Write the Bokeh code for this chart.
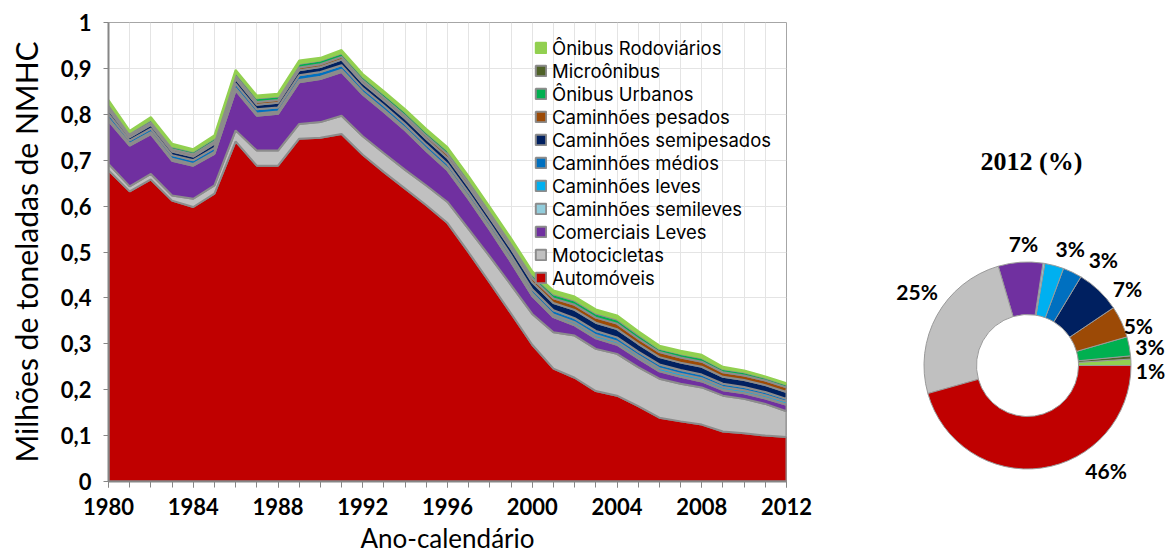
import math
from bokeh.plotting import figure
from bokeh.models import (Range1d, SingleIntervalTicker, FixedTicker, CustomJSTickFormatter,
                          Legend, LegendItem)
from bokeh.layouts import row
from bokeh.embed import file_html
from bokeh.resources import INLINE
from bokeh.core.properties import value

# ---------------- data (millions of tonnes NMHC) ----------------
years = list(range(1980, 2013))

automoveis = [0.678, 0.632, 0.658, 0.612, 0.598, 0.627, 0.741, 0.688, 0.688, 0.747,
              0.749, 0.757, 0.712, 0.674, 0.638, 0.602, 0.563, 0.499, 0.433, 0.366,
              0.298, 0.246, 0.226, 0.197, 0.187, 0.164, 0.139, 0.131, 0.124, 0.109,
              0.105, 0.100, 0.097]
motocicletas = [0.014, 0.011, 0.012, 0.011, 0.018, 0.018, 0.024, 0.033, 0.033, 0.032,
                0.034, 0.040, 0.040, 0.041, 0.041, 0.043, 0.046, 0.051, 0.057, 0.062,
                0.067, 0.079, 0.092, 0.092, 0.091, 0.085, 0.085, 0.082, 0.081, 0.078,
                0.075, 0.069, 0.056]
comerciais_leves = [0.094, 0.089, 0.087, 0.076, 0.072, 0.069, 0.087, 0.076, 0.080, 0.091,
                    0.094, 0.095, 0.091, 0.090, 0.086, 0.075, 0.069, 0.065, 0.058, 0.050,
                    0.039, 0.033, 0.022, 0.023, 0.020, 0.019, 0.016, 0.015, 0.013, 0.012,
                    0.012, 0.012, 0.014]
cam_semileves = [0.001, 0.001, 0.001, 0.001, 0.001, 0.001, 0.001, 0.001, 0.001, 0.001,
                 0.001, 0.001, 0.001, 0.001, 0.001, 0.001, 0.001, 0.001, 0.001, 0.001,
                 0.001, 0.001, 0.001, 0.001, 0.001, 0.001, 0.001, 0.001, 0.001, 0.001,
                 0.001, 0.001, 0.001]
cam_leves = [0.004, 0.003, 0.003, 0.003, 0.003, 0.003, 0.004, 0.004, 0.004, 0.004,
             0.004, 0.004, 0.004, 0.004, 0.004, 0.004, 0.004, 0.004, 0.004, 0.005,
             0.005, 0.005, 0.006, 0.006, 0.006, 0.006, 0.006, 0.006, 0.006, 0.006,
             0.006, 0.006, 0.006]
cam_medios = [0.010, 0.007, 0.008, 0.008, 0.008, 0.009, 0.010, 0.009, 0.009, 0.010,
              0.010, 0.010, 0.009, 0.009, 0.009, 0.009, 0.009, 0.009, 0.009, 0.009,
              0.009, 0.009, 0.009, 0.009, 0.009, 0.008, 0.008, 0.008, 0.008, 0.007,
              0.007, 0.007, 0.006]
cam_semipesados = [0.009, 0.007, 0.008, 0.008, 0.008, 0.009, 0.010, 0.010, 0.010, 0.011,
                   0.011, 0.012, 0.011, 0.011, 0.012, 0.012, 0.013, 0.013, 0.013, 0.014,
                   0.015, 0.016, 0.018, 0.018, 0.018, 0.017, 0.016, 0.016, 0.017, 0.015,
                   0.015, 0.015, 0.015]
cam_pesados = [0.006, 0.005, 0.005, 0.005, 0.005, 0.005, 0.006, 0.006, 0.006, 0.006,
               0.006, 0.006, 0.006, 0.006, 0.006, 0.007, 0.008, 0.008, 0.008, 0.008,
               0.009, 0.010, 0.011, 0.011, 0.012, 0.011, 0.011, 0.011, 0.011, 0.010,
               0.010, 0.010, 0.010]
onibus_urbanos = [0.008, 0.005, 0.006, 0.006, 0.006, 0.007, 0.008, 0.008, 0.008, 0.008,
                  0.008, 0.008, 0.008, 0.008, 0.008, 0.008, 0.008, 0.008, 0.008, 0.008,
                  0.008, 0.009, 0.009, 0.009, 0.009, 0.009, 0.007, 0.008, 0.008, 0.007,
                  0.007, 0.006, 0.006]
microonibus = [0.001, 0.001, 0.001, 0.001, 0.001, 0.001, 0.001, 0.001, 0.001, 0.001,
               0.001, 0.001, 0.001, 0.001, 0.001, 0.001, 0.001, 0.001, 0.001, 0.001,
               0.001, 0.002, 0.002, 0.002, 0.002, 0.002, 0.001, 0.001, 0.001, 0.001,
               0.001, 0.001, 0.001]
onibus_rodoviarios = [0.006, 0.003, 0.005, 0.005, 0.004, 0.005, 0.005, 0.005, 0.005, 0.006,
                      0.005, 0.006, 0.005, 0.005, 0.005, 0.006, 0.006, 0.006, 0.006, 0.006,
                      0.006, 0.006, 0.007, 0.007, 0.007, 0.006, 0.006, 0.006, 0.006, 0.004,
                      0.003, 0.002, 0.002]

# stacking order: bottom -> top
names = ["Automóveis", "Motocicletas", "Comerciais Leves", "Caminhões semileves",
         "Caminhões leves", "Caminhões médios", "Caminhões semipesados",
         "Caminhões pesados", "Ônibus Urbanos", "Microônibus", "Ônibus Rodoviários"]
series = [automoveis, motocicletas, comerciais_leves, cam_semileves, cam_leves, cam_medios,
          cam_semipesados, cam_pesados, onibus_urbanos, microonibus, onibus_rodoviarios]

# 2012 shares (%) in the same order
pie_2012_pct = [46, 25, 7, 0.3, 3, 3, 7, 5, 3, 0.5, 1]

# ---------------- styles ----------------
colors = ["#C00000", "#C0C0C0", "#7030A0", "#92CDDC", "#00B0F0", "#0070C0",
          "#002060", "#9C4A06", "#00B050", "#4F6228", "#92D050"]
OUTLINE = "#8c8c8c"
FONT = "Lato"
H = 558
BORDER_TOP, BORDER_BOTTOM = 22, 77

# ---------------- area chart ----------------
p = figure(width=812, height=H, x_range=Range1d(1980, 2012), y_range=Range1d(0, 1),
           output_backend="svg", toolbar_location=None,
           min_border_left=108, min_border_right=26,
           min_border_top=BORDER_TOP, min_border_bottom=BORDER_BOTTOM)
p.outline_line_color = "#a6a6a6"
p.outline_line_width = 1
p.background_fill_color = "white"

base = [0.0] * len(years)
rends = []
for name, vals, col in zip(names, series, colors):
    top = [b + v for b, v in zip(base, vals)]
    xs = years + years[::-1]
    ys = top + base[::-1]
    lc = col if name == "Ônibus Rodoviários" else OUTLINE
    r = p.patch(xs, ys, fill_color=col, line_color=lc, line_width=2)
    rends.append((name, r))
    base = top

legend = Legend(items=[LegendItem(label=n, renderers=[r]) for n, r in reversed(rends)],
                location=(426, 192))
legend.label_text_font = "Inter"
legend.label_text_font_size = "18.5px"
legend.label_text_color = "#000000"
legend.glyph_width = 13
legend.glyph_height = 13
legend.label_height = 23
legend.spacing = 0
legend.padding = 0
legend.margin = 0
legend.label_standoff = 5
legend.border_line_color = None
legend.background_fill_alpha = 0
p.add_layout(legend)

# axes
p.xaxis.ticker = SingleIntervalTicker(interval=4, num_minor_ticks=4)
p.yaxis.ticker = FixedTicker(ticks=[0, 0.1, 0.2, 0.3, 0.4, 0.5, 0.6, 0.7, 0.8, 0.9, 1])
p.yaxis.formatter = CustomJSTickFormatter(
    code="return (tick < 0.001 || tick > 0.999) ? tick.toFixed(0) : tick.toFixed(1).replace('.', ',');")
p.xgrid.ticker = SingleIntervalTicker(interval=1)
p.ygrid.ticker = FixedTicker(ticks=[0, 0.1, 0.2, 0.3, 0.4, 0.5, 0.6, 0.7, 0.8, 0.9, 1])
p.grid.grid_line_color = "#e4e4e4"
p.grid.grid_line_width = 1

for ax in (p.xaxis, p.yaxis):
    ax.axis_line_color = "#868686"
    ax.axis_line_width = 2
    ax.major_tick_line_color = "#868686"
    ax.major_tick_in = 0
    ax.major_tick_out = 6
    ax.major_label_text_font = FONT
    ax.major_label_text_font_style = "bold"
    ax.major_label_text_font_size = "22px"
    ax.major_label_text_color = "#000000"
    ax.axis_label_text_font = FONT
    ax.axis_label_text_font_style = "normal"
    ax.axis_label_text_color = "#000000"

p.xaxis.minor_tick_line_color = "#868686"
p.xaxis.minor_tick_in = 0
p.xaxis.minor_tick_out = 6
p.yaxis.minor_tick_line_color = None
p.yaxis.major_tick_out = 5

p.xaxis.axis_label = "Ano-calendário"
p.xaxis.axis_label_text_font_size = "26px"
p.xaxis.major_label_standoff = 10
p.xaxis.axis_label_standoff = 4

p.yaxis.axis_label = "Milhões de toneladas de NMHC"
p.yaxis.axis_label_text_font_size = "30px"
p.yaxis.major_label_standoff = 12
p.yaxis.axis_label_standoff = 14

# ---------------- donut chart (2012) ----------------
W2 = 1170 - 812
FH = H - BORDER_TOP - BORDER_BOTTOM   # frame height, aligned with the area chart's frame
q = figure(width=W2, height=H, x_range=Range1d(0, W2), y_range=Range1d(0, FH),
           x_axis_type=None, y_axis_type=None, output_backend="svg", toolbar_location=None,
           min_border_left=0, min_border_right=0,
           min_border_top=BORDER_TOP, min_border_bottom=BORDER_BOTTOM)
q.outline_line_color = None
q.grid.visible = False

cx, cy = 215, 116
r_in, r_out = 51, 103.5
# label placement tweaks (degrees, radius)
label_nudge = {"Ônibus Rodoviários": (-4, 123), "Ônibus Urbanos": (-2, 124),
               "Caminhões pesados": (-5, 118), "Caminhões semipesados": (-9, 126),
               "Caminhões médios": (-10, 130), "Caminhões leves": (-5, 125),
               "Comerciais Leves": (-2, 122), "Motocicletas": (-5, 133),
               "Automóveis": (29, 131)}

total = sum(pie_2012_pct)
start = 0.0
starts, ends, cols, lx, ly, lt = [], [], [], [], [], []
for name, pct, col in zip(reversed(names), reversed(pie_2012_pct), reversed(colors)):
    span = 2 * math.pi * pct / total
    starts.append(start)
    ends.append(start + span)
    cols.append(col)
    if pct >= 1:
        d_deg, rr = label_nudge.get(name, (0, 125))
        mid = start + span / 2 + math.radians(d_deg)
        lx.append(cx + rr * math.cos(mid))
        ly.append(cy + rr * math.sin(mid))
        lt.append(f"{round(pct)}%")
    start += span

q.annular_wedge(x=cx, y=cy, inner_radius=r_in, outer_radius=r_out,
                start_angle=starts, end_angle=ends, fill_color=cols,
                line_color="#9a9a9a", line_width=1)
q.text(x=lx, y=ly, text=lt, text_align="center", text_baseline="middle",
       text_font=value(FONT), text_font_style="bold", text_font_size="21px",
       text_color="#000000")
q.text(x=[219], y=[320], text=["2012 (%)"], text_align="center", text_baseline="middle",
       text_font=value("Liberation Serif"), text_font_style="bold", text_font_size="26px",
       text_color="#000000")

layout = row(p, q)
open("out.html", "w").write(file_html(layout, INLINE, title="NMHC"))
